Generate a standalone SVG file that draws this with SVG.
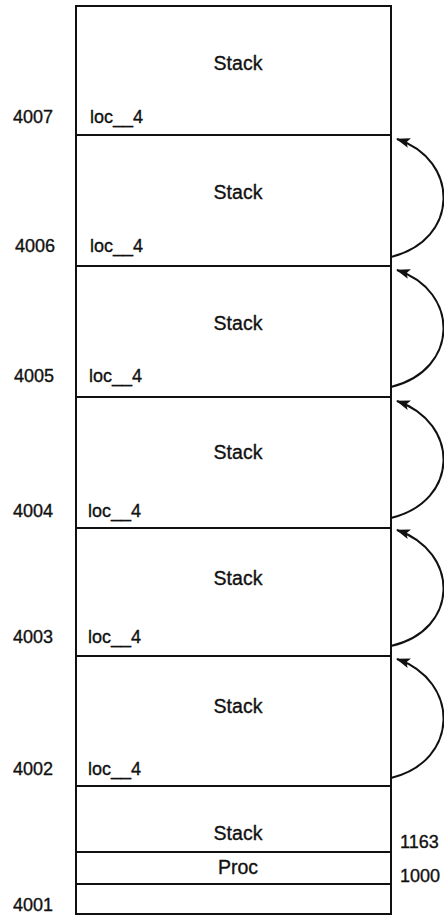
<svg xmlns="http://www.w3.org/2000/svg" width="444" height="917" viewBox="0 0 444 917">
  <style>
    .box { fill: none; stroke: #111; stroke-width: 2; }
    .div { stroke: #111; stroke-width: 2; }
    .t { font-family: "Liberation Sans", Arial, sans-serif; font-size: 18px; fill: #111; stroke: #111; stroke-width: 0.35; }
    .c { text-anchor: middle; font-size: 19.5px; }
    .link { fill: none; stroke: #111; stroke-width: 2; marker-end: url(#head); }
  </style>
  <defs>
    <marker id="head" markerWidth="14" markerHeight="10" refX="13" refY="5" orient="auto" markerUnits="userSpaceOnUse">
      <path d="M0,0 L14,5 L0,10 L3,5 Z" fill="#111"/>
    </marker>
  </defs>

  <rect class="box" x="76" y="6" width="315" height="908"/>

  <g id="frame-4007">
    <text class="t c" x="238" y="70">Stack</text>
    <text class="t" x="90" y="123">loc__4</text>
    <text class="t" x="13" y="123">4007</text>
    <line class="div" x1="76" y1="135" x2="391" y2="135"/>
  </g>
  <g id="frame-4006">
    <text class="t c" x="238" y="199">Stack</text>
    <text class="t" x="90" y="252">loc__4</text>
    <text class="t" x="15" y="252">4006</text>
    <line class="div" x1="76" y1="266" x2="391" y2="266"/>
  </g>
  <g id="frame-4005">
    <text class="t c" x="238" y="330">Stack</text>
    <text class="t" x="89" y="382">loc__4</text>
    <text class="t" x="14" y="382">4005</text>
    <line class="div" x1="76" y1="397" x2="391" y2="397"/>
  </g>
  <g id="frame-4004">
    <text class="t c" x="238" y="459">Stack</text>
    <text class="t" x="88" y="517">loc__4</text>
    <text class="t" x="13" y="517">4004</text>
    <line class="div" x1="76" y1="528" x2="391" y2="528"/>
  </g>
  <g id="frame-4003">
    <text class="t c" x="238" y="585">Stack</text>
    <text class="t" x="88" y="643">loc__4</text>
    <text class="t" x="13" y="643">4003</text>
    <line class="div" x1="76" y1="656" x2="391" y2="656"/>
  </g>
  <g id="frame-4002">
    <text class="t c" x="238" y="713">Stack</text>
    <text class="t" x="88" y="775">loc__4</text>
    <text class="t" x="13" y="775">4002</text>
    <line class="div" x1="76" y1="786" x2="391" y2="786"/>
  </g>
  <g id="frame-4001">
    <text class="t c" x="238" y="840">Stack</text>
    <line class="div" x1="76" y1="852" x2="391" y2="852"/>
    <text class="t c" x="238" y="874">Proc</text>
    <line class="div" x1="76" y1="884" x2="391" y2="884"/>
    <text class="t" x="13" y="911">4001</text>
    <text class="t" x="400" y="848">1163</text>
    <text class="t" x="400" y="882">1000</text>
  </g>

  <g id="connectors">
    <path class="link" d="M391,257 C460,240 460,160 397,139"/>
    <path class="link" d="M391,387 C460,370 460,291 397,270"/>
    <path class="link" d="M391,518 C460,501 460,423 397,401"/>
    <path class="link" d="M391,646 C460,630 460,552 397,530"/>
    <path class="link" d="M391,778 C460,761 460,681 397,659"/>
  </g>
</svg>
